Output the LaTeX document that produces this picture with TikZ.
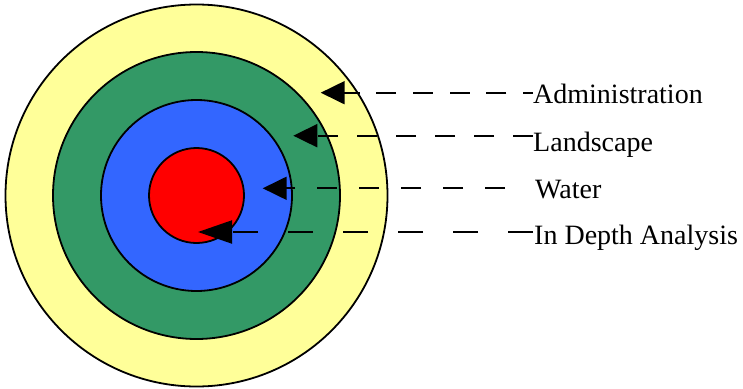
\documentclass[tikz,border=0pt]{standalone}
\usepackage{fontspec}
\setmainfont{Liberation Serif}
\usetikzlibrary{arrows.meta}
\definecolor{ringyellow}{HTML}{FFFF99}
\definecolor{ringgreen}{HTML}{339966}
\definecolor{ringblue}{HTML}{3366FF}
\definecolor{ringred}{HTML}{FF0000}
\begin{document}
\begin{tikzpicture}[x=1pt,y=-1pt,
  ring/.style={circle,draw=black,line width=1.8pt,inner sep=0pt},
  lbl/.style={anchor=base west,inner sep=0pt,font=\fontsize{28}{34}\selectfont},
  conn/.style={line width=2pt,-{Triangle[length=24pt,width=23pt]}}]
\useasboundingbox (0,0) rectangle (743,388);
\node[ring,fill=ringyellow,minimum size=382pt] (outer) at (196.5,195.5) {};
\node[ring,fill=ringgreen,minimum size=287pt] (green) at (196.5,195.5) {};
\node[ring,fill=ringblue,minimum size=191pt] (blue) at (196.5,195.5) {};
\node[ring,fill=ringred,minimum size=95pt] (red) at (196.5,195.5) {};

\node[lbl] (admin) at (533,103) {Administration};
\node[lbl] (land) at (533,151) {Landscape};
\node[lbl] (water) at (535,198.3) {Water};
\node[lbl] (depth) at (534,244) {In Depth Analysis};

\coordinate (s1) at ([yshift=10.3pt]admin.base west);
\coordinate (t1) at (320.7,92.7);
\coordinate (s2) at ([yshift=15.3pt]land.base west);
\coordinate (t2) at (293.3,135.7);
\coordinate (s3) at ([xshift=-30pt,yshift=10pt]water.base west);
\coordinate (t3) at (262.7,188.3);
\coordinate (s4) at ([xshift=-1pt,yshift=12pt]depth.base west);
\coordinate (t4) at (198,232);

\draw[conn,dash pattern=on 20pt off 16.7pt,dash phase=10pt] (s1) -- (t1);
\draw[conn,dash pattern=on 20pt off 19pt] (s2) -- (t2);
\draw[conn,dash pattern=on 20pt off 22pt] (s3) -- (t3);
\draw[line width=2pt,-{Triangle[length=34pt,width=23pt]},dash pattern=on 25pt off 30pt] (s4) -- (t4);
\end{tikzpicture}
\end{document}
